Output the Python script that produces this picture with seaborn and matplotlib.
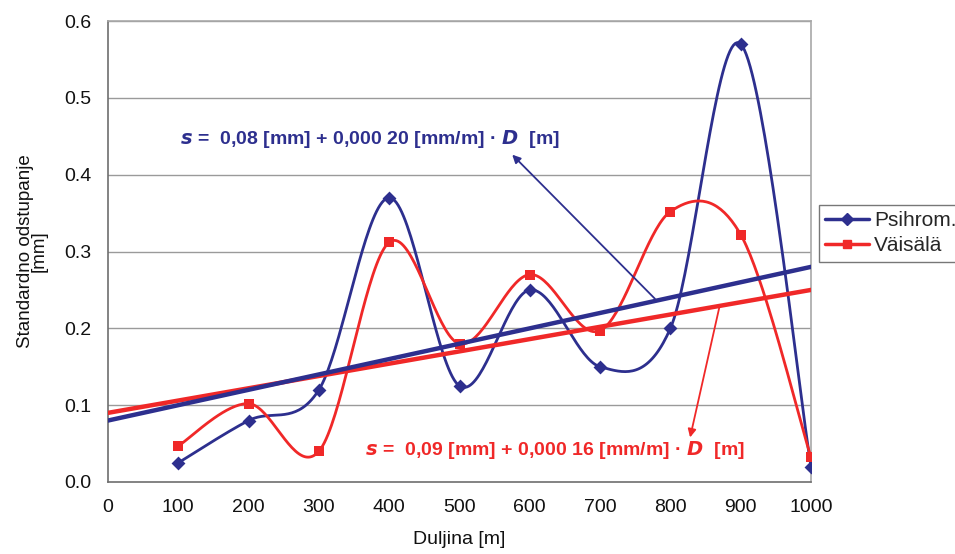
import numpy as np
import pandas as pd
import matplotlib
matplotlib.use("Agg")
import matplotlib.pyplot as plt
import seaborn as sns
from matplotlib.lines import Line2D

# ---- data ----
distance = [100, 200, 300, 400, 500, 600, 700, 800, 900, 1000]
psihrom = [0.025, 0.080, 0.120, 0.370, 0.125, 0.250, 0.150, 0.200, 0.570, 0.020]
vaisala = [0.047, 0.102, 0.040, 0.312, 0.180, 0.270, 0.197, 0.352, 0.322, 0.032]
series_names = ["Psihrom.", "Väisälä"]
trend_intercepts = [0.08, 0.09]
trend_slopes = [0.00020, 0.00016]
eq_labels = [
    r"$\boldsymbol{s}$ =  0,08 [mm] + 0,000 20 [mm/m] · $\boldsymbol{D}$  [m]",
    r"$\boldsymbol{s}$ =  0,09 [mm] + 0,000 16 [mm/m] · $\boldsymbol{D}$  [m]",
]
x_ticks = [0, 100, 200, 300, 400, 500, 600, 700, 800, 900, 1000]
y_ticks = [0.0, 0.1, 0.2, 0.3, 0.4, 0.5, 0.6]
x_label = "Duljina [m]"
y_label = "Standardno odstupanje\n[mm]"

BLUE = "#2D2F8E"
RED = "#F02828"
colors = [BLUE, RED]
markers = ["D", "s"]


def excel_smooth(x, y, n=40):
    x = np.asarray(x, float)
    y = np.asarray(y, float)
    P = np.column_stack([x, y])
    out = []
    m = len(P)
    for i in range(m - 1):
        p0 = P[i - 1] if i > 0 else P[i]
        p1 = P[i]
        p2 = P[i + 1]
        p3 = P[i + 2] if i + 2 < m else P[i + 1]
        c1 = p1 + (p2 - p0) / 6.0
        c2 = p2 - (p3 - p1) / 6.0
        t = np.linspace(0, 1, n)[:, None]
        b = ((1 - t) ** 3) * p1 + 3 * ((1 - t) ** 2) * t * c1 + 3 * (1 - t) * t ** 2 * c2 + t ** 3 * p2
        out.append(b if i == 0 else b[1:])
    return np.vstack(out)


sns.set_style("white")
plt.rcParams["font.family"] = ["Liberation Sans", "DejaVu Sans"]
plt.rcParams["mathtext.fontset"] = "custom"
plt.rcParams["mathtext.bf"] = "Liberation Sans:bold:italic"

fig = plt.figure(figsize=(9.55, 5.54), dpi=100)
ax = fig.add_axes([108 / 955, 1 - 482 / 554, (811 - 108) / 955, (482 - 21) / 554])

# gridlines
for yv in y_ticks[1:]:
    ax.axhline(yv, color="#9A9A9A", lw=1.0, zorder=0)

all_series = [psihrom, vaisala]
for name, vals, c in zip(series_names, all_series, colors):
    sm = excel_smooth(distance, vals)
    df = pd.DataFrame({"x": sm[:, 0], "y": sm[:, 1]})
    sns.lineplot(data=df, x="x", y="y", sort=False, estimator=None, color=c,
                 lw=2.0, ax=ax, zorder=3)

for name, vals, c, mk in zip(series_names, all_series, colors, markers):
    sns.scatterplot(x=distance, y=vals, marker=mk, color=c, s=55 if mk == "s" else 50,
                    edgecolor=c, linewidth=0, ax=ax, zorder=4)

# trend lines (red first, blue on top)
xt = np.array([x_ticks[0], x_ticks[-1]], float)
for idx in [1, 0]:
    yt = trend_intercepts[idx] + trend_slopes[idx] * xt
    sns.lineplot(x=xt, y=yt, color=colors[idx], lw=3.2, ax=ax, zorder=5)

# annotations
ax.annotate(eq_labels[0], xy=(575, 0.426), xytext=(372, 0.446),
            textcoords="data", ha="center", va="center", color=BLUE,
            fontsize=14, fontweight="bold", zorder=6)
ax.annotate("", xy=(575, 0.426), xytext=(778, 0.2385),
            arrowprops=dict(arrowstyle="-|>", color=BLUE, lw=1.3,
                            mutation_scale=12, shrinkA=0, shrinkB=0), zorder=6)
ax.annotate(eq_labels[1], xy=(828, 0.058), xytext=(636, 0.041),
            textcoords="data", ha="center", va="center", color=RED,
            fontsize=14, fontweight="bold", zorder=6)
ax.annotate("", xy=(828, 0.058), xytext=(870, 0.229),
            arrowprops=dict(arrowstyle="-|>", color=RED, lw=1.3,
                            mutation_scale=12, shrinkA=0, shrinkB=0), zorder=6)

ax.set_xlim(x_ticks[0], x_ticks[-1])
ax.set_ylim(y_ticks[0], y_ticks[-1])
ax.set_xticks(x_ticks)
ax.set_xticklabels([str(v) for v in x_ticks])
ax.set_yticks(y_ticks)
ax.set_yticklabels([f"{v:.1f}" for v in y_ticks])
ax.tick_params(axis="both", direction="out", length=5, width=1, color="#808080",
               labelsize=14, labelcolor="#111111", pad=7)
ax.tick_params(axis="x", pad=7)
ax.set_xlabel(x_label, fontsize=14, color="#111111", labelpad=11)
ax.set_ylabel(y_label, fontsize=13.5, color="#111111", labelpad=12, linespacing=0.72)

for sp in ["left", "bottom"]:
    ax.spines[sp].set_color("#6E6E6E")
    ax.spines[sp].set_linewidth(1.2)
for sp in ["top", "right"]:
    ax.spines[sp].set_color("#A8A8A8")
    ax.spines[sp].set_linewidth(1.2)

handles = [Line2D([0], [0], color=c, lw=2.5, marker=mk, markersize=6 if mk == "s" else 6)
           for c, mk in zip(colors, markers)]
leg = fig.legend(handles, series_names, loc="upper left",
                 bbox_to_anchor=(819 / 955, 1 - 205 / 554), frameon=True,
                 fancybox=False, edgecolor="#555555", fontsize=15,
                 handlelength=2.1, handletextpad=0.25, borderpad=0.3,
                 labelspacing=0.3, borderaxespad=0)
leg.get_frame().set_linewidth(1.0)

fig.savefig("out.png", dpi=100)
